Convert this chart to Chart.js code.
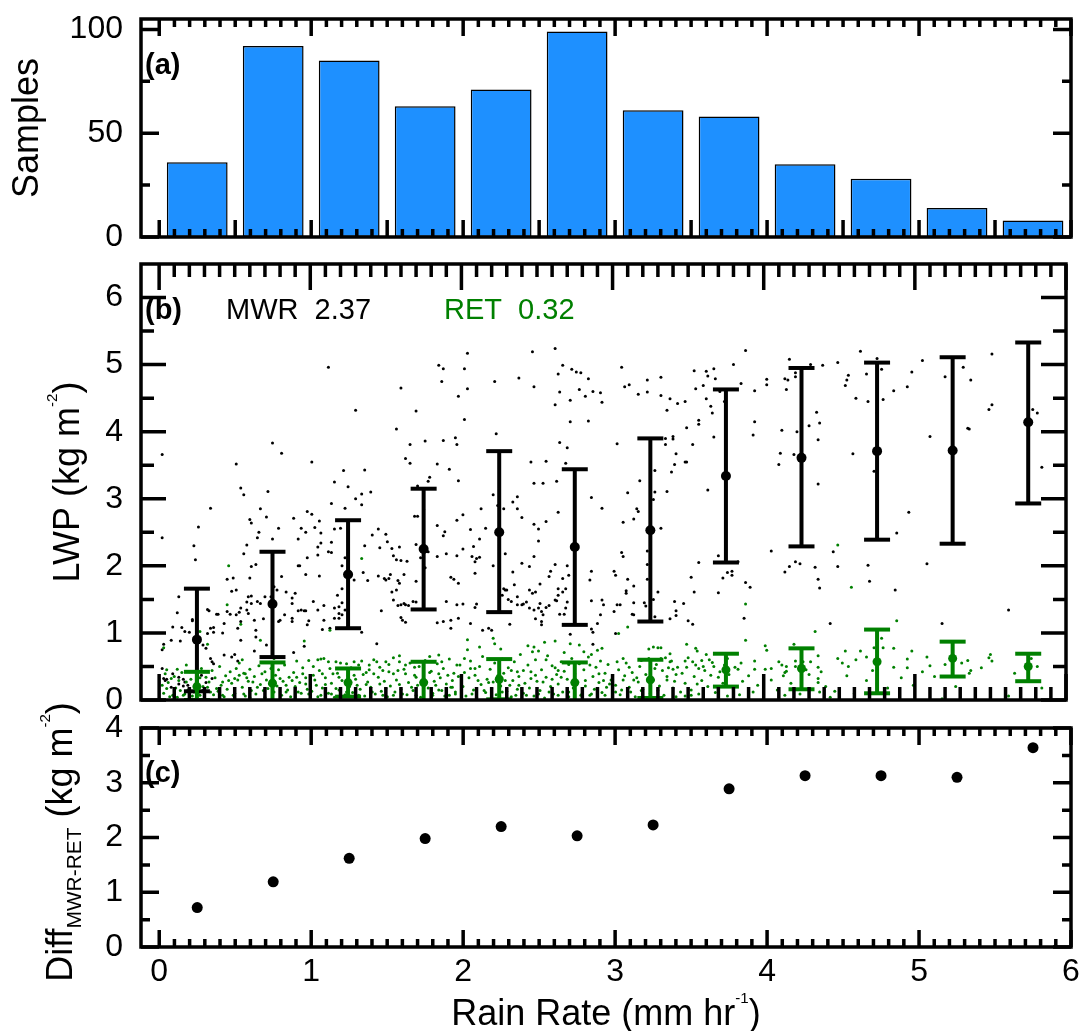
<!DOCTYPE html>
<html><head><meta charset="utf-8">
<script src="https://cdn.jsdelivr.net/npm/chart.js@4.4.1/dist/chart.umd.min.js"></script>
<style>
html,body{margin:0;padding:0;background:#fff;}
#wrap{position:relative;width:1083px;height:1031px;background:#fff;}
canvas{position:absolute;left:0;top:0;}
</style></head><body>
<div id="wrap">
<canvas id="ca" width="1083" height="1031"></canvas>
<canvas id="cb" width="1083" height="1031"></canvas>
<canvas id="cc" width="1083" height="1031"></canvas>
</div>
<script>
// ---------------- DATA ----------------
const binCenters = [0.25,0.75,1.25,1.75,2.25,2.75,3.25,3.75,4.25,4.75,5.25,5.75];
const samples    = [36,92,85,63,71,99,61,58,35,28,14,8];
const mwrMean = [0.90,1.43,1.87,2.25,2.50,2.28,2.53,3.34,3.61,3.71,3.72,4.14];
const mwrHigh = [1.66,2.21,2.68,3.15,3.71,3.44,3.90,4.63,4.95,5.03,5.11,5.33];
const mwrLow  = [0.13,0.64,1.07,1.35,1.31,1.12,1.17,2.05,2.29,2.39,2.33,2.93];
const retMean = [0.20,0.25,0.26,0.26,0.31,0.26,0.30,0.45,0.47,0.57,0.62,0.50];
const retHigh = [0.42,0.56,0.47,0.57,0.61,0.56,0.60,0.69,0.77,1.05,0.87,0.69];
const retLow  = [0.00,-0.05,0.05,-0.04,0.01,-0.04,0.03,0.20,0.16,0.10,0.35,0.28];
const diffMR  = [0.72,1.19,1.62,1.98,2.20,2.03,2.23,2.89,3.13,3.13,3.10,3.64];
const xTicks  = [0,1,2,3,4,5,6];
const yTicksA = [0,50,100];
const yTicksB = [0,1,2,3,4,5,6];
const yTicksC = [0,1,2,3,4];
const mwrLabel = "MWR  2.37";
const retLabel = "RET  0.32";

const mwrPoints = [
[0.02,3.66],[0.02,2.42],[0.51,3.52],[0.54,3.16],[0.56,3.06],[0.75,3.83],[0.81,3.68],[0.72,3.11],[0.34,2.86],[0.26,2.58],[0.23,2.30],[0.24,2.09],[0.67,2.85],[0.60,2.69],[0.61,2.64],[0.71,2.73],[0.66,2.50],[0.65,2.42],[0.58,2.31],[0.56,2.18],[0.75,2.40],[0.79,2.56],[0.89,2.71],[0.92,2.40],[0.64,2.02],[0.61,1.99],[0.92,2.00],[0.60,1.82],[0.45,1.80],[0.49,1.82],[0.81,1.84],[0.48,1.62],[0.51,1.64],[0.13,1.54],[0.59,1.54],[0.61,1.55],[0.58,1.46],[0.61,1.44],[0.65,1.47],[0.67,1.44],[0.70,1.54],[0.74,1.54],[0.76,1.69],[0.78,1.64],[0.84,1.61],[0.90,1.59],[0.88,1.52],[0.88,1.44],[0.92,1.33],[0.12,1.30],[0.32,1.35],[0.33,1.33],[0.38,1.28],[0.39,1.28],[0.45,1.32],[0.47,1.28],[0.54,1.37],[0.53,1.31],[0.51,1.27],[0.54,1.17],[0.52,1.07],[0.43,1.14],[0.58,1.34],[0.59,1.29],[0.63,1.19],[0.69,1.21],[0.64,1.04],[0.64,0.94],[0.79,1.17],[0.80,1.19],[0.83,1.27],[0.88,1.22],[0.88,1.17],[0.09,1.09],[0.15,1.08],[0.17,1.02],[0.20,1.01],[0.22,1.20],[0.22,1.18],[0.34,1.07],[0.36,1.08],[0.32,0.99],[0.36,1.01],[0.42,1.00],[0.54,0.89],[0.08,0.89],[0.14,0.88],[0.03,0.83],[0.02,0.75],[0.29,0.82],[0.31,0.77],[0.63,0.73],[0.71,0.82],[0.89,0.71],[0.43,0.67],[0.48,0.64],[0.50,0.68],[0.52,0.58],[0.34,0.62],[0.35,0.57],[0.36,0.54],[0.02,0.47],[0.09,0.39],[0.13,0.34],[0.16,0.31],[0.17,0.27],[0.28,0.37],[0.35,0.32],[0.03,0.32],[0.04,0.29],[0.05,0.31],[0.13,0.24],[0.16,0.21],[0.08,0.19],[0.19,0.22],[0.31,0.26],[0.29,0.14],
[1.12,4.96],[1.30,4.32],[1.01,3.55],[1.22,3.42],[1.36,3.43],[1.16,3.25],[1.25,3.18],[1.34,3.07],[1.40,3.10],[1.30,3.00],[1.34,2.91],[1.14,2.93],[1.23,2.86],[0.98,2.81],[1.01,2.77],[1.06,2.67],[1.03,2.57],[0.94,2.56],[0.97,2.50],[1.07,2.49],[1.16,2.55],[1.20,2.56],[1.07,2.34],[1.05,2.28],[1.05,2.16],[1.14,2.35],[1.12,2.21],[1.14,2.20],[0.98,2.12],[0.93,2.00],[0.97,1.87],[1.06,1.85],[1.21,2.00],[1.23,2.12],[1.35,1.90],[1.38,1.78],[1.36,2.30],[1.41,2.46],[1.45,2.55],[1.50,2.47],[1.46,2.27],[1.51,2.36],[1.54,2.26],[1.55,2.15],[1.59,2.28],[1.57,2.09],[1.60,2.08],[1.64,2.07],[1.62,1.87],[1.45,1.85],[1.49,1.81],[1.50,1.79],[1.52,1.81],[1.53,1.87],[1.58,1.78],[1.59,1.74],[1.54,1.61],[1.57,1.64],[1.55,1.49],[1.58,1.41],[1.60,1.42],[1.62,1.44],[1.63,1.42],[1.65,1.41],[1.68,1.47],[1.70,1.46],[1.70,1.77],[1.73,2.12],[1.76,1.97],[1.78,2.21],[1.69,2.74],[1.71,2.74],[1.70,2.32],[1.75,2.84],[1.78,3.26],[1.79,3.32],[1.71,3.19],[1.63,3.60],[1.66,3.53],[1.66,3.81],[1.76,3.86],[1.84,3.52],[1.92,3.44],[1.88,3.87],[1.96,3.91],[1.97,3.81],[1.98,3.27],[1.97,2.68],[1.84,2.60],[1.89,2.51],[1.88,2.45],[1.90,2.18],[1.97,2.15],[1.84,2.14],[1.93,1.83],[1.95,1.80],[1.98,1.74],[1.90,1.47],[1.97,1.42],[1.93,1.19],[1.88,1.17],[1.84,1.15],[1.93,1.07],[1.98,1.22],[1.57,4.04],[1.70,4.31],[1.60,4.65],[1.85,4.99],[1.88,4.94],[1.87,4.75],[1.98,4.53],[0.96,1.33],[0.94,1.34],[0.97,1.33],[1.02,1.47],[1.05,1.34],[1.09,1.41],[1.16,1.37],[1.19,1.39],[1.23,1.34],[1.19,1.29],[1.16,1.22],[1.21,1.27],[1.09,1.19],[0.99,1.18],[0.98,1.12],[1.08,1.05],[1.13,1.07],[1.19,1.22],[1.34,1.01],[1.44,0.84],[1.47,1.33],[0.96,0.80],[1.21,1.45],[1.18,1.56],[1.21,1.66],[1.29,1.79],[1.60,1.23],[1.63,1.16],[1.61,1.19],
[2.04,5.17],[2.02,4.94],[2.04,4.64],[2.02,4.18],[2.01,2.76],[2.22,4.75],[2.23,3.97],[2.38,4.80],[2.47,5.19],[2.48,4.67],[2.62,5.24],[2.67,4.99],[2.64,4.86],[2.65,4.59],[2.62,4.40],[2.73,4.93],[2.76,4.89],[2.79,4.88],[2.84,4.79],[2.78,4.63],[2.82,4.53],[2.87,4.60],[2.92,4.58],[2.93,4.44],[2.72,4.47],[2.72,4.15],[2.84,4.16],[2.65,3.84],[2.70,3.76],[2.69,3.53],[2.46,3.55],[2.56,3.56],[2.48,3.23],[2.54,3.23],[2.63,3.26],[3.03,3.82],[2.86,3.02],[2.93,2.86],[2.64,2.80],[2.56,2.66],[2.48,2.62],[2.51,2.55],[2.51,2.37],[2.40,2.72],[2.37,2.85],[2.34,2.95],[2.37,3.03],[2.28,2.85],[2.21,3.06],[2.24,2.90],[2.13,2.85],[2.16,2.56],[2.06,2.54],[2.12,2.40],[2.08,2.29],[2.10,2.11],[2.12,2.13],[2.09,2.06],[2.07,2.14],[2.01,2.25],[2.09,1.89],[2.21,2.00],[2.29,2.18],[2.40,2.04],[2.48,2.14],[2.45,1.99],[2.34,1.91],[2.35,1.72],[2.28,1.66],[2.29,1.64],[2.30,1.64],[2.27,1.56],[2.31,1.50],[2.33,1.47],[2.37,1.54],[2.37,1.42],[2.40,1.42],[2.41,1.43],[2.43,1.46],[2.45,1.37],[2.47,1.59],[2.49,1.61],[2.45,1.64],[2.52,1.73],[2.58,1.84],[2.59,1.92],[2.62,2.02],[2.64,1.66],[2.67,1.61],[2.69,1.66],[2.64,1.56],[2.70,1.46],[2.69,1.37],[2.65,1.28],[2.68,1.28],[2.71,1.86],[2.67,1.81],[2.70,2.00],[2.86,1.92],[2.85,1.79],[3.01,1.92],[3.02,1.86],[2.52,1.44],[2.51,1.37],[2.53,1.32],[2.54,1.27],[2.48,1.34],[2.49,1.21],[2.53,1.17],[2.53,1.12],[2.58,1.41],[2.56,1.38],[2.62,1.49],[2.63,1.48],[2.86,1.48],[2.93,1.49],[2.94,1.42],[2.92,1.27],[2.90,1.14],[2.86,1.06],[2.87,1.01],[2.87,0.83],[3.01,1.32],[3.03,1.42],[3.02,0.99],[2.01,1.43],[2.10,1.43],[2.09,1.38],[2.06,1.14],[2.14,1.04],[2.18,1.07],[2.20,1.04],[2.32,1.13],[2.72,0.98],
[3.06,4.96],[3.08,4.67],[3.11,4.70],[3.17,4.56],[3.23,4.77],[3.23,4.59],[3.32,4.54],[3.32,4.81],[3.36,4.32],[3.38,4.49],[3.43,4.42],[3.48,4.45],[3.54,4.91],[3.55,4.64],[3.60,4.69],[3.62,4.90],[3.63,4.83],[3.67,4.94],[3.68,4.79],[3.62,4.49],[3.65,4.38],[3.66,4.28],[3.71,4.60],[3.74,4.45],[3.80,5.00],[3.88,5.21],[3.85,4.72],[3.94,4.61],[4.02,4.78],[4.02,4.70],[3.94,4.15],[3.93,3.95],[3.67,3.92],[3.57,4.11],[3.57,4.17],[3.49,4.06],[3.53,3.81],[3.40,3.93],[3.40,3.89],[3.35,3.90],[3.35,3.81],[3.42,3.67],[3.41,3.51],[3.39,3.40],[3.48,3.55],[3.49,3.55],[3.28,3.42],[3.18,3.27],[3.10,3.09],[3.28,3.10],[3.27,2.99],[3.36,3.11],[3.63,3.13],[3.16,2.85],[3.17,2.81],[3.14,2.70],[3.07,2.65],[3.32,2.56],[3.06,2.20],[3.07,2.14],[3.23,2.22],[3.23,2.02],[3.57,2.05],[3.70,2.15],[3.73,1.82],[3.76,1.90],[3.79,1.92],[3.79,1.86],[3.83,2.06],[3.88,1.75],[3.91,1.68],[4.05,2.22],[3.52,1.83],[3.54,1.61],[3.70,1.60],[3.10,1.80],[3.14,1.70],[3.09,1.63],[3.09,1.59],[3.23,1.80],[3.30,1.61],[3.14,1.45],[3.21,1.45],[3.22,1.40],[3.05,1.42],[3.13,1.28],[3.14,1.27],[3.27,1.50],[3.28,1.24],[3.38,1.21],[3.41,1.47],[3.42,1.33],[3.42,1.26],[3.47,1.44],[3.50,1.18],[3.53,1.13],[3.87,1.22],
[4.17,5.08],[4.31,5.00],[4.39,4.99],[4.49,5.03],[4.64,5.20],[4.75,5.09],[4.78,4.93],[4.68,4.86],[4.56,4.84],[4.55,4.77],[4.54,4.69],[4.14,4.79],[4.16,4.77],[4.15,4.63],[4.21,4.82],[4.21,4.88],[4.61,4.50],[4.69,4.45],[4.79,4.48],[4.86,4.61],[4.95,4.67],[4.98,4.89],[5.05,5.06],[4.12,4.02],[4.22,4.00],[4.30,4.09],[4.35,4.29],[4.37,4.13],[4.36,3.88],[4.11,3.68],[4.20,3.66],[4.10,3.51],[4.59,3.67],[4.73,3.41],[4.75,4.28],[5.10,3.93],[4.36,3.22],[4.96,2.80],[4.88,2.49],[4.14,1.91],[4.17,1.99],[4.21,2.06],[4.24,2.03],[4.34,1.98],[4.36,1.80],[4.37,1.67],[4.46,2.21],[4.49,1.99],[4.69,2.01],[4.70,1.77],[4.87,1.64],[5.08,2.03],[4.44,1.14],
[5.20,4.82],[5.32,4.96],[5.37,4.77],[5.51,5.16],[5.49,4.33],[5.51,4.40],[5.35,4.05],[5.36,4.04],[5.78,4.33],[5.81,4.28],[5.84,3.47],[5.62,1.34],[5.18,1.14]
];

// RET points that stand out clearly in the picture
const retPoints = [
[0.46,2.00],[0.45,1.42],[0.54,1.13],[0.67,0.89],[0.32,0.83],[0.03,0.78],[0.27,1.02],[0.12,0.46],[0.20,0.42],[0.27,0.33],[0.31,0.34],[0.04,0.39],[0.02,0.22],[0.05,0.17],[0.09,0.07],[0.16,0.07],[0.23,0.12],[0.34,0.12],[0.38,0.17],[0.42,0.27],[0.46,0.29],[0.50,0.32],[0.53,0.37],[0.58,0.33],[0.62,0.27],[0.65,0.19],[0.69,0.14],[0.73,0.24],[0.75,0.32],[0.80,0.32],[0.84,0.22],[0.88,0.29],[0.92,0.12],[0.49,0.07],[0.56,0.09],[0.42,0.07],[0.60,0.04],[0.32,0.19],[0.27,0.07],[0.14,0.14],[0.51,0.47],[0.57,0.39],[0.70,0.42],[0.74,0.47],[0.84,0.12],[0.91,0.34],[0.08,0.32],[0.18,0.27],
[1.34,2.11],[1.13,1.04],[0.96,0.88],[0.99,0.59],[1.05,0.60],[1.07,0.61],[1.12,0.57],[1.17,0.57],[1.24,0.54],[1.29,0.57],[1.34,0.58],[1.39,0.52],[1.44,0.57],[1.50,0.57],[1.55,0.63],[1.59,0.57],[1.63,0.52],[1.69,0.49],[1.79,0.65],[1.85,0.67],[1.87,0.57],[1.97,0.52],[0.95,0.39],[1.02,0.37],[1.08,0.39],[1.15,0.39],[1.19,0.34],[1.29,0.37],[1.37,0.41],[1.42,0.39],[1.48,0.44],[1.52,0.42],[1.58,0.44],[1.63,0.39],[1.70,0.34],[1.80,0.43],[1.85,0.39],[1.91,0.37],[1.94,0.29],[0.97,0.24],[1.04,0.22],[1.10,0.23],[1.17,0.17],[1.31,0.22],[1.37,0.23],[1.46,0.24],[1.50,0.17],[1.59,0.23],[1.67,0.19],[1.77,0.27],[1.83,0.22],[1.87,0.14],[1.94,0.19],[0.99,0.09],[1.07,0.07],[1.14,0.09],[1.24,0.12],[1.32,0.07],[1.41,0.12],[1.48,0.07],[1.55,0.07],[1.61,0.09],[1.70,0.07],[1.81,0.07],[1.92,0.07],[1.96,0.12],
[2.04,0.90],[2.21,0.92],[2.22,0.84],[2.04,0.75],[2.48,0.79],[2.47,0.72],[2.51,0.73],[2.62,0.88],[2.72,0.84],[2.78,0.82],[2.81,0.72],[2.86,0.68],[2.93,0.77],[2.02,0.62],[2.06,0.47],[2.09,0.47],[2.33,0.44],[2.37,0.42],[2.41,0.44],[2.56,0.60],[2.62,0.48],[2.64,0.44],[2.71,0.53],[2.85,0.52],[3.03,0.57],[2.91,0.39],[2.94,0.29],[2.11,0.29],[2.18,0.26],[2.21,0.27],[2.29,0.29],[2.32,0.22],[2.38,0.22],[2.46,0.32],[2.49,0.37],[2.54,0.27],[2.60,0.31],[2.66,0.34],[2.82,0.29],[2.98,0.24],[2.00,0.12],[2.07,0.09],[2.15,0.14],[2.27,0.12],[2.36,0.07],[2.43,0.07],[2.51,0.09],[2.58,0.12],[2.64,0.07],[2.71,0.12],[2.79,0.07],[2.86,0.09],[2.95,0.07],[3.02,0.12],
[3.88,1.43],[3.10,1.09],[3.04,0.99],[3.88,0.89],[3.49,0.83],[3.27,0.79],[3.30,0.78],[3.24,0.76],[3.32,0.78],[3.38,0.69],[3.55,0.77],[3.56,0.73],[3.62,0.68],[4.01,0.81],[4.02,0.74],[3.07,0.62],[3.19,0.59],[3.32,0.62],[3.35,0.63],[3.39,0.58],[3.48,0.58],[3.53,0.57],[3.59,0.59],[3.64,0.60],[3.76,0.62],[3.85,0.55],[3.94,0.58],[3.11,0.49],[3.28,0.47],[3.37,0.48],[3.40,0.46],[3.42,0.38],[3.49,0.49],[3.57,0.47],[3.60,0.50],[3.67,0.50],[3.70,0.34],[3.74,0.52],[3.81,0.49],[3.94,0.46],[4.01,0.46],[4.05,0.47],[3.07,0.30],[3.14,0.30],[3.16,0.33],[3.36,0.30],[3.56,0.24],[3.65,0.37],[3.06,0.15],[3.12,0.12],[3.19,0.14],[3.30,0.14],[3.42,0.05],[3.48,0.06],[3.52,0.07],[3.76,0.06],[3.84,0.08],[3.93,0.12],
[4.49,2.31],[4.58,1.68],[4.34,1.02],[4.88,1.18],[4.78,0.92],[4.79,0.78],[4.73,0.78],[4.68,0.64],[4.64,0.73],[4.54,0.73],[4.49,0.62],[4.61,0.60],[4.56,0.50],[4.55,0.36],[4.68,0.29],[4.86,0.77],[4.86,0.49],[4.95,0.48],[4.95,0.61],[4.98,0.73],[5.08,0.64],[5.10,0.51],[5.05,0.42],[4.36,0.66],[4.31,0.57],[4.26,0.57],[4.21,0.58],[4.20,0.83],[4.10,0.57],[4.12,0.52],[4.15,0.50],[4.13,0.36],[4.14,0.41],[4.15,0.43],[4.21,0.50],[4.30,0.38],[4.36,0.49],[4.38,0.42],[4.36,0.32],[4.36,0.26],[4.37,0.12],[4.14,0.07],[4.44,0.04],[4.47,0.13],
[5.20,0.53],[5.31,0.55],[5.35,0.59],[5.36,0.40],[5.37,0.44],[5.49,0.63],[5.50,0.68],[5.51,0.58],[5.81,0.50],[5.84,0.18],[5.62,0.06],[5.18,0.02]
];

// RET points estimated inside the crowded band near the x axis
const retPointsBand = [
[0.03,0.10],[0.05,0.45],[0.06,0.26],[0.07,0.05],[0.10,0.35],[0.11,0.18],[0.12,0.04],[0.13,0.29],[0.15,0.41],[0.17,0.09],[0.18,0.52],[0.19,0.15],[0.21,0.31],[0.22,0.06],[0.24,0.24],[0.25,0.38],[0.26,0.11],[0.28,0.47],[0.29,0.20],[0.30,0.03],[0.33,0.27],[0.35,0.44],[0.36,0.08],[0.37,0.33],[0.39,0.13],[0.40,0.50],[0.41,0.22],[0.43,0.05],[0.44,0.36],[0.45,0.16],[0.47,0.42],[0.48,0.25],[0.50,0.10],[0.52,0.30],[0.53,0.55],[0.55,0.19],[0.56,0.40],[0.57,0.06],[0.59,0.28],[0.60,0.46],[0.61,0.14],[0.63,0.35],[0.64,0.09],[0.66,0.51],[0.67,0.23],[0.68,0.39],[0.70,0.04],[0.71,0.30],[0.72,0.17],[0.74,0.56],[0.76,0.12],[0.77,0.37],[0.78,0.21],[0.79,0.45],[0.81,0.07],[0.82,0.28],[0.83,0.52],[0.85,0.15],[0.86,0.34],[0.87,0.05],[0.89,0.41],[0.90,0.20],[0.91,0.58],[0.93,0.26],[0.94,0.10],[0.95,0.48],[0.97,0.33],[0.98,0.16],[0.76,0.62],[0.55,0.60],
[1.01,0.13],[1.02,0.50],[1.03,0.30],[1.05,0.05],[1.06,0.44],[1.08,0.18],[1.09,0.62],[1.10,0.33],[1.12,0.10],[1.13,0.47],[1.14,0.25],[1.16,0.04],[1.18,0.40],[1.19,0.15],[1.20,0.55],[1.21,0.29],[1.23,0.08],[1.25,0.36],[1.26,0.20],[1.27,0.48],[1.28,0.11],[1.30,0.31],[1.32,0.52],[1.33,0.16],[1.35,0.38],[1.36,0.06],[1.38,0.27],[1.39,0.45],[1.40,0.19],[1.42,0.60],[1.43,0.09],[1.45,0.34],[1.46,0.49],[1.47,0.13],[1.49,0.28],[1.51,0.05],[1.52,0.53],[1.53,0.21],[1.55,0.39],[1.56,0.12],[1.57,0.30],[1.59,0.66],[1.60,0.16],[1.62,0.46],[1.64,0.08],[1.65,0.26],[1.66,0.55],[1.68,0.14],[1.69,0.37],[1.71,0.22],[1.72,0.50],[1.73,0.04],[1.75,0.31],[1.76,0.59],[1.78,0.18],[1.79,0.41],[1.81,0.10],[1.82,0.28],[1.84,0.54],[1.85,0.15],[1.86,0.33],[1.88,0.47],[1.89,0.06],[1.90,0.24],[1.92,0.61],[1.93,0.19],[1.95,0.40],[1.96,0.09],[1.98,0.35],[1.99,0.52],
[2.01,0.20],[2.02,0.41],[2.03,0.06],[2.05,0.33],[2.06,0.58],[2.08,0.15],[2.09,0.37],[2.10,0.04],[2.12,0.50],[2.13,0.23],[2.14,0.65],[2.16,0.11],[2.17,0.31],[2.19,0.46],[2.20,0.17],[2.22,0.55],[2.23,0.08],[2.24,0.36],[2.26,0.21],[2.27,0.61],[2.28,0.40],[2.30,0.13],[2.31,0.48],[2.33,0.05],[2.34,0.29],[2.35,0.57],[2.37,0.16],[2.38,0.35],[2.39,0.68],[2.41,0.10],[2.42,0.25],[2.44,0.52],[2.45,0.18],[2.46,0.42],[2.48,0.06],[2.49,0.60],[2.50,0.28],[2.52,0.14],[2.53,0.45],[2.55,0.03],[2.56,0.34],[2.57,0.66],[2.59,0.20],[2.60,0.51],[2.61,0.09],[2.63,0.38],[2.64,0.24],[2.66,0.57],[2.67,0.12],[2.68,0.43],[2.70,0.31],[2.71,0.05],[2.73,0.62],[2.74,0.18],[2.75,0.39],[2.77,0.27],[2.78,0.54],[2.80,0.10],[2.81,0.45],[2.82,0.21],[2.84,0.64],[2.85,0.07],[2.87,0.35],[2.88,0.16],[2.89,0.49],[2.91,0.26],[2.92,0.58],[2.93,0.11],[2.95,0.40],[2.96,0.19],[2.97,0.53],[2.99,0.30],[2.26,0.76],[2.44,0.81],[2.68,0.71],[2.90,0.74],[2.12,0.79],[2.55,0.86],
[3.02,0.22],[3.04,0.45],[3.05,0.08],[3.08,0.36],[3.09,0.55],[3.11,0.19],[3.13,0.41],[3.15,0.05],[3.17,0.27],[3.18,0.50],[3.20,0.16],[3.22,0.38],[3.24,0.62],[3.25,0.10],[3.27,0.30],[3.29,0.53],[3.31,0.21],[3.33,0.44],[3.34,0.07],[3.36,0.35],[3.38,0.57],[3.40,0.18],[3.41,0.28],[3.43,0.49],[3.45,0.12],[3.46,0.40],[3.48,0.25],[3.50,0.63],[3.52,0.15],[3.54,0.35],[3.55,0.52],[3.57,0.09],[3.59,0.29],[3.61,0.44],[3.63,0.20],[3.66,0.56],[3.68,0.11],[3.71,0.42],[3.73,0.25],[3.77,0.38],[3.80,0.16],[3.83,0.46],[3.86,0.28],[3.90,0.36],[3.96,0.22],
[4.05,0.30],[4.09,0.15],[4.18,0.25],[4.24,0.09],[4.28,0.45],[4.41,0.20],[4.52,0.55],[4.60,0.10],[4.72,0.44],[4.82,0.18],[4.91,0.33],[4.99,0.22],
[5.13,0.35],[5.27,0.20],[5.44,0.48],[5.66,0.40],[5.77,0.62]
];

// ---------------- STYLE ----------------
const FONT = "'Liberation Sans', Arial, Helvetica, sans-serif";
const GREEN = '#008000';
const BLUE = '#1E90FF';
const X_MIN = -0.12, X_MAX = 6;
const AREA_L = 141, AREA_R = 1071;
const TICK_FONT = 32, TITLE_FONT = 36, NOTE_FONT = 29;

function richText(ctx, parts, x, y, rot, size, color) {
  ctx.save();
  ctx.translate(x, y); ctx.rotate(rot);
  ctx.fillStyle = color || '#000';
  ctx.textBaseline = 'alphabetic'; ctx.textAlign = 'left';
  let total = 0;
  const m = parts.map(p => {
    const s = size * (p.scale || 1);
    ctx.font = (p.bold ? 'bold ' : '') + s + 'px ' + FONT;
    const w = ctx.measureText(p.t).width; total += w; return {s, w};
  });
  let cx = -total / 2;
  parts.forEach((p, i) => {
    ctx.font = (p.bold ? 'bold ' : '') + m[i].s + 'px ' + FONT;
    ctx.fillText(p.t, cx, (p.dy || 0) * size);
    cx += m[i].w;
  });
  ctx.restore();
}

function frameTicks(o) {
  return {
    id: 'frameTicks',
    afterDatasetsDraw(chart) {
      const {ctx, chartArea: a, scales: {x, y}} = chart;
      ctx.save();
      ctx.strokeStyle = '#000'; ctx.lineWidth = 3.5; ctx.lineCap = 'butt';
      ctx.beginPath();
      for (let i = 0; i <= 60; i++) {
        const px = x.getPixelForValue(i / 10);
        const major = (i % 10 === 0);
        const lenTop = major ? o.xMajor : o.xMinor;
        const lenBot = (major || (o.halfBottom && i % 5 === 0)) ? o.xMajor : o.xMinor;
        ctx.moveTo(px, a.bottom); ctx.lineTo(px, a.bottom - lenBot);
        ctx.moveTo(px, a.top); ctx.lineTo(px, a.top + lenTop);
      }
      const t = o.yTicks;
      const yt = [];
      t.forEach((v, i) => { yt.push([v, o.yMajor]); if (i < t.length - 1) yt.push([(v + t[i + 1]) / 2, o.yMinor]); });
      yt.forEach(([v, len]) => {
        const py = y.getPixelForValue(v);
        ctx.moveTo(a.left, py); ctx.lineTo(a.left + len, py);
        ctx.moveTo(a.right, py); ctx.lineTo(a.right - len, py);
      });
      ctx.stroke();
      ctx.strokeRect(a.left, a.top, a.right - a.left, a.bottom - a.top);
      ctx.restore();
    }
  };
}

function yAxis(min, max, ticks) {
  return {
    type: 'linear', min, max, position: 'left',
    afterBuildTicks: s => { s.ticks = ticks.map(v => ({value: v})); },
    afterFit: s => { s.width = AREA_L; s.paddingTop = 0; s.paddingBottom = 0; },
    grid: {display: false, drawTicks: false}, border: {display: false},
    ticks: {color: '#000', font: {family: FONT, size: TICK_FONT}, padding: 18, autoSkip: false}
  };
}
const xHidden = {type: 'linear', min: X_MIN, max: X_MAX, display: false, offset: false};
const baseOpts = (pad) => ({
  responsive: false, animation: false, maintainAspectRatio: false,
  layout: {padding: pad},
  plugins: {legend: {display: false}, tooltip: {enabled: false}}
});
const toXY = arr => arr.map(p => ({x: p[0], y: p[1]}));

// ---------------- PANEL A ----------------
const optsA = baseOpts({left: 0, right: 1083 - AREA_R, top: 19, bottom: 1031 - 237});
optsA.scales = {x: xHidden, y: yAxis(0, 105, yTicksA)};
new Chart(document.getElementById('ca'), {
  type: 'bar',
  data: {datasets: [{
    data: binCenters.map((x, i) => ({x, y: samples[i]})),
    backgroundColor: BLUE, borderColor: '#000', borderWidth: 1.5, borderSkipped: false,
    barPercentage: 0.8, categoryPercentage: 1.0
  }]},
  options: optsA,
  plugins: [frameTicks({xMajor: 17, xMinor: 8, yMajor: 18, yMinor: 9, yTicks: yTicksA, halfBottom: true}), {
    id: 'annA',
    afterDraw(chart) {
      const {ctx, chartArea: a} = chart;
      richText(ctx, [{t: 'Samples'}], 38, (a.top + a.bottom) / 2, -Math.PI / 2, TITLE_FONT);
      ctx.save(); ctx.font = 'bold ' + NOTE_FONT + 'px ' + FONT; ctx.fillStyle = '#000';
      ctx.textAlign = 'left'; ctx.fillText('(a)', a.left + 4, a.top + 55); ctx.restore();
    }
  }]
});

// ---------------- PANEL B ----------------
const capData = (lo, hi) => binCenters.flatMap((x, i) => [{x, y: hi[i]}, {x, y: lo[i]}]);
const barData = (lo, hi) => binCenters.flatMap((x, i) => [{x, y: lo[i]}, {x, y: hi[i]}, {x, y: null}]);
const meanData = (m) => binCenters.map((x, i) => ({x, y: m[i]}));
const optsB = baseOpts({left: 0, right: 1083 - AREA_R, top: 264, bottom: 1031 - 700});
optsB.scales = {x: xHidden, y: yAxis(0, 6.5, yTicksB)};
new Chart(document.getElementById('cb'), {
  type: 'scatter',
  data: {datasets: [
    {data: capData(retLow, retHigh), pointStyle: 'line', pointRadius: 13, pointBorderWidth: 4, pointBorderColor: GREEN, pointBackgroundColor: GREEN, clip: 0},
    {type: 'line', data: barData(retLow, retHigh), borderColor: GREEN, borderWidth: 4, pointRadius: 0, spanGaps: false, fill: false, clip: 0},
    {data: meanData(retMean), pointRadius: 4.5, pointBackgroundColor: GREEN, pointBorderWidth: 0},
    {data: capData(mwrLow, mwrHigh), pointStyle: 'line', pointRadius: 13, pointBorderWidth: 4, pointBorderColor: '#000', pointBackgroundColor: '#000', clip: 0},
    {type: 'line', data: barData(mwrLow, mwrHigh), borderColor: '#000', borderWidth: 4, pointRadius: 0, spanGaps: false, fill: false, clip: 0},
    {data: meanData(mwrMean), pointRadius: 5, pointBackgroundColor: '#000', pointBorderWidth: 0},
    {data: toXY(retPoints).concat(toXY(retPointsBand)), pointRadius: 1.5, pointBackgroundColor: GREEN, pointBorderWidth: 0},
    {data: toXY(mwrPoints), pointRadius: 1.5, pointBackgroundColor: '#000', pointBorderWidth: 0}
  ]},
  options: optsB,
  plugins: [frameTicks({xMajor: 26, xMinor: 13, yMajor: 25, yMinor: 13, yTicks: yTicksB}), {
    id: 'annB',
    afterDraw(chart) {
      const {ctx, chartArea: a} = chart;
      richText(ctx, [{t: 'LWP (kg m'}, {t: '-2', scale: 0.42, dy: -0.62}, {t: ')'}], 79, (a.top + a.bottom) / 2, -Math.PI / 2, TITLE_FONT);
      ctx.save(); ctx.textAlign = 'left'; ctx.fillStyle = '#000';
      ctx.font = 'bold ' + NOTE_FONT + 'px ' + FONT; ctx.fillText('(b)', a.left + 4, a.top + 55);
      ctx.font = NOTE_FONT + 'px ' + FONT; ctx.fillText(mwrLabel, 226, a.top + 55);
      ctx.fillStyle = GREEN; ctx.fillText(retLabel, 444, a.top + 55);
      ctx.restore();
    }
  }]
});

// ---------------- PANEL C ----------------
const optsC = baseOpts({left: 0, right: 1083 - AREA_R, top: 728, bottom: 0});
optsC.scales = {
  x: {
    type: 'linear', min: X_MIN, max: X_MAX, position: 'bottom', offset: false,
    afterBuildTicks: s => { s.ticks = xTicks.map(v => ({value: v})); },
    afterFit: s => { s.height = 1031 - 947; s.paddingLeft = 0; s.paddingRight = 0; },
    grid: {display: false, drawTicks: false}, border: {display: false},
    ticks: {color: '#000', font: {family: FONT, size: TICK_FONT}, padding: 6, maxRotation: 0, autoSkip: false}
  },
  y: yAxis(0, 4, yTicksC)
};
new Chart(document.getElementById('cc'), {
  type: 'scatter',
  data: {datasets: [{data: meanData(diffMR), pointRadius: 5.5, pointBackgroundColor: '#000', pointBorderWidth: 0}]},
  options: optsC,
  plugins: [frameTicks({xMajor: 17, xMinor: 8, yMajor: 18, yMinor: 9, yTicks: yTicksC}), {
    id: 'annC',
    afterDraw(chart) {
      const {ctx, chartArea: a} = chart;
      richText(ctx, [{t: 'Diff'}, {t: 'MWR-RET', scale: 0.58, dy: 0.25}, {t: ' (kg m'}, {t: '-2', scale: 0.42, dy: -0.62}, {t: ')'}], 72, 842, -Math.PI / 2, TITLE_FONT);
      richText(ctx, [{t: 'Rain Rate (mm hr'}, {t: '-1', scale: 0.42, dy: -0.62}, {t: ')'}], (a.left + a.right) / 2, 1025, 0, TITLE_FONT);
      ctx.save(); ctx.font = 'bold ' + NOTE_FONT + 'px ' + FONT; ctx.fillStyle = '#000';
      ctx.textAlign = 'left'; ctx.fillText('(c)', a.left + 4, a.top + 54); ctx.restore();
    }
  }]
});
</script>
</body></html>
